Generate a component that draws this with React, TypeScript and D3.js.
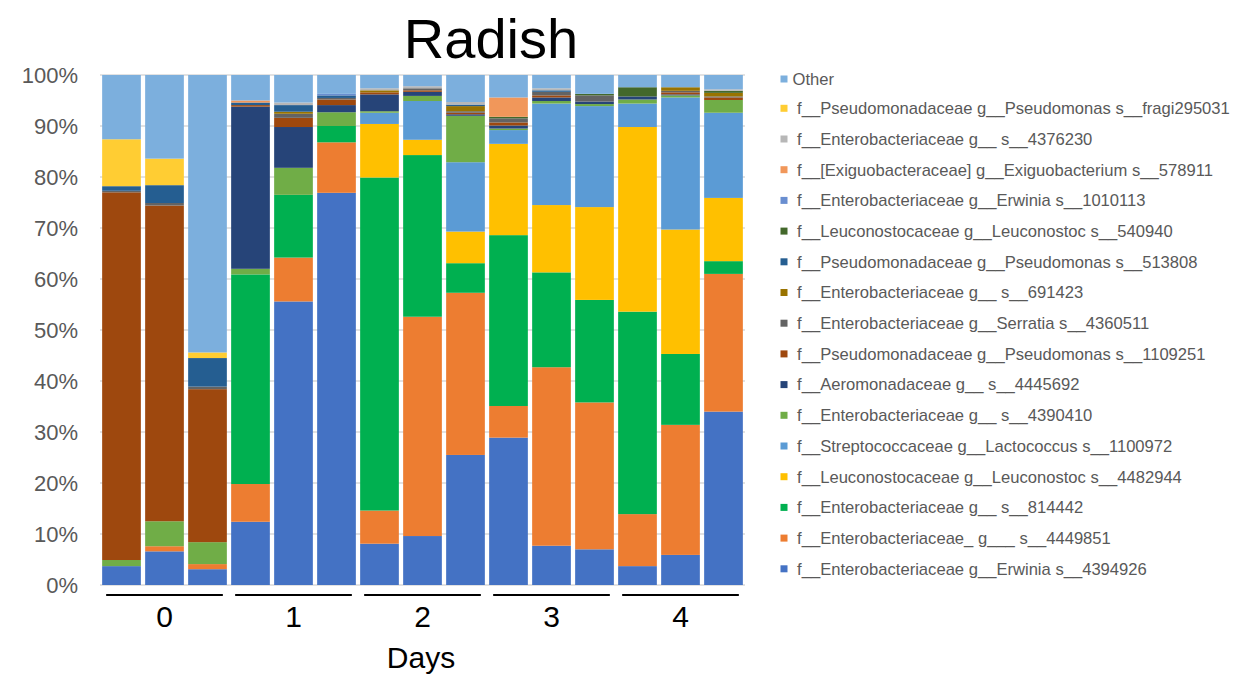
import React from "react";
import * as d3 from "d3";

// ---- data ----
const days = ["0", "1", "2", "3", "4"];
const replicates = ["a", "b", "c"];

// series in stacking order (bottom -> top)
const seriesLabels = [
  " f__Enterobacteriaceae g__Erwinia s__4394926",
  " f__Enterobacteriaceae_ g___ s__4449851",
  " f__Enterobacteriaceae g__ s__814442",
  " f__Leuconostocaceae g__Leuconostoc s__4482944",
  " f__Streptococcaceae g__Lactococcus s__1100972",
  " f__Enterobacteriaceae g__ s__4390410",
  " f__Aeromonadaceae g__ s__4445692",
  " f__Pseudomonadaceae g__Pseudomonas s__1109251",
  " f__Enterobacteriaceae g__Serratia s__4360511",
  " f__Enterobacteriaceae g__ s__691423",
  " f__Pseudomonadaceae g__Pseudomonas s__513808",
  " f__Leuconostocaceae g__Leuconostoc s__540940",
  " f__Enterobacteriaceae g__Erwinia s__1010113",
  " f__[Exiguobacteraceae] g__Exiguobacterium s__578911",
  " f__Enterobacteriaceae g__ s__4376230",
  " f__Pseudomonadaceae g__Pseudomonas s__fragi295031",
  "Other",
];

const seriesColors = [
  "#4472C4", "#ED7D31", "#00B050", "#FFC000", "#5B9BD5", "#70AD47",
  "#264478", "#9E480E", "#636363", "#997300", "#255E91", "#43682B",
  "#698ED0", "#F1975A", "#B7B7B7", "#FFCD33", "#7CAFDD",
];

const erwinia4394926 = [3.7, 6.6, 3.1, 12.4, 55.6, 76.9, 8.1, 9.6, 25.5, 28.9, 7.7, 7.0, 3.7, 5.9, 34.0];
const entero4449851 = [0, 1.0, 1.0, 7.4, 8.6, 9.9, 6.5, 43.0, 31.8, 6.2, 35.0, 28.8, 10.2, 25.5, 27.0];
const entero814442 = [0, 0, 0, 41.1, 12.3, 3.2, 65.3, 31.7, 5.8, 33.5, 18.6, 20.1, 39.7, 13.9, 2.5];
const leuco4482944 = [0, 0, 0, 0, 0, 0, 10.5, 3.0, 6.2, 17.9, 13.2, 18.2, 36.2, 24.4, 12.4];
const lacto1100972 = [0, 0, 0, 0, 0, 0, 2.2, 7.6, 13.6, 2.7, 19.9, 19.8, 4.6, 25.9, 16.7];
const entero4390410 = [1.2, 4.9, 4.3, 1.1, 5.3, 2.7, 0.3, 1.0, 9.1, 0.3, 0.5, 0.4, 0.8, 0.4, 2.5];
const aero4445692 = [0, 0, 0, 31.8, 8.0, 1.4, 3.3, 0.8, 0.3, 0.6, 0.7, 0.5, 0.6, 0.2, 0];
const pseudo1109251 = [72.1, 61.9, 30.0, 0.3, 1.8, 1.1, 0.4, 0.3, 0.3, 0.6, 0.4, 0, 0, 0.4, 0.5];
const serratia4360511 = [0.3, 0.5, 0.5, 0, 0.8, 0.3, 0, 0.4, 0.3, 0.8, 0.7, 1.2, 0, 0.3, 0.2];
const entero691423 = [0, 0, 0, 0, 0.4, 0, 0.4, 0, 1.0, 0, 0, 0, 0, 0.7, 0.7];
const pseudo513808 = [0.9, 3.5, 5.6, 0.5, 1.3, 0.5, 0, 0, 0.3, 0, 0.3, 0, 0, 0, 0];
const leuco540940 = [0, 0, 0, 0, 0, 0, 0, 0, 0, 0.3, 0, 0.3, 1.8, 0, 0.4];
const erwinia1010113 = [0, 0, 0, 0, 0, 0.3, 0, 0, 0, 0, 0, 0, 0, 0, 0];
const exiguo578911 = [0, 0, 0, 0.4, 0, 0, 0, 0, 0, 3.8, 0, 0, 0, 0, 0];
const entero4376230 = [0, 0, 0, 0, 0.5, 0, 0.4, 0.4, 0.5, 0, 0.4, 0, 0, 0, 0.3];
const fragi295031 = [9.2, 5.2, 1.1, 0, 0, 0, 0, 0, 0, 0, 0, 0, 0, 0, 0];
const other = [12.6, 16.4, 54.4, 5.0, 5.4, 3.7, 2.6, 2.2, 5.3, 4.4, 2.6, 3.7, 2.4, 2.4, 2.8];

const seriesValues = [
  erwinia4394926, entero4449851, entero814442, leuco4482944, lacto1100972,
  entero4390410, aero4445692, pseudo1109251, serratia4360511, entero691423,
  pseudo513808, leuco540940, erwinia1010113, exiguo578911, entero4376230,
  fragi295031, other,
];

const yTicks = [0, 10, 20, 30, 40, 50, 60, 70, 80, 90, 100];

export default function App() {
  const W = 1243, H = 677;
  const font = "'Liberation Sans', Arial, sans-serif";
  const sampleIds = days.flatMap((d) => replicates.map((r) => `${d}${r}`));

  const rows = sampleIds.map((id, i) => {
    const row: any = { id };
    seriesLabels.forEach((k, s) => (row[k] = seriesValues[s][i]));
    return row;
  });
  const stacked = d3.stack<any>().keys(seriesLabels)(rows);

  const x = d3.scaleBand<string>().domain(sampleIds).range([100, 745]).paddingInner(0.1).paddingOuter(0.05);
  const y = d3.scaleLinear().domain([0, 100]).range([585, 75]);
  const bw = x.bandwidth();

  const legendY = (i: number) => (i === 0 ? 79 : 108.3 + (i - 1) * 30.7);
  const legendItems = seriesLabels.map((l, i) => ({ l, c: seriesColors[i] })).reverse();

  return (
    <svg width={W} height={H} style={{ position: "absolute", left: 0, top: 0, background: "#fff" }} fontFamily={font}>
      <rect x={0} y={0} width={W} height={H} fill="#fff" />
      <text x={491} y={58} textAnchor="middle" fontSize={56} fill="#000">Radish</text>

      {yTicks.map((t) => (
        <g key={t}>
          <line x1={100} x2={745} y1={y(t)} y2={y(t)} stroke="#D9D9D9" strokeWidth={1.5} />
          <text x={78} y={y(t)} dy="0.35em" textAnchor="end" fontSize={22} fill="#595959">{t}%</text>
        </g>
      ))}

      {stacked.map((layer, s) => (
        <g key={s} fill={seriesColors[s]}>
          {layer.map((d, i) => {
            const h = y(d[0]) - y(d[1]);
            if (h <= 0) return null;
            return <rect key={i} x={x(sampleIds[i])} y={y(d[1])} width={bw} height={h} />;
          })}
        </g>
      ))}

      {days.map((d) => {
        const first = x(`${d}${replicates[0]}`)!;
        const last = x(`${d}${replicates[replicates.length - 1]}`)! + bw;
        const mid = x(`${d}${replicates[1]}`)! + bw / 2;
        return (
          <g key={d}>
            <line x1={first + 4} x2={last - 4} y1={595} y2={595} stroke="#000" strokeWidth={2} />
            <text x={mid} y={627} textAnchor="middle" fontSize={30} fill="#000">{d}</text>
          </g>
        );
      })}
      <text x={421} y={668} textAnchor="middle" fontSize={30} fill="#000">Days</text>

      {legendItems.map((it, i) => (
        <g key={i}>
          <rect x={780.5} y={legendY(i) - 3.5} width={7} height={7} fill={it.c} />
          <text x={792.5} y={legendY(i)} dy="0.35em" fontSize={16.6} fill="#595959" style={{ whiteSpace: "pre" }}>{it.l}</text>
        </g>
      ))}
    </svg>
  );
}
